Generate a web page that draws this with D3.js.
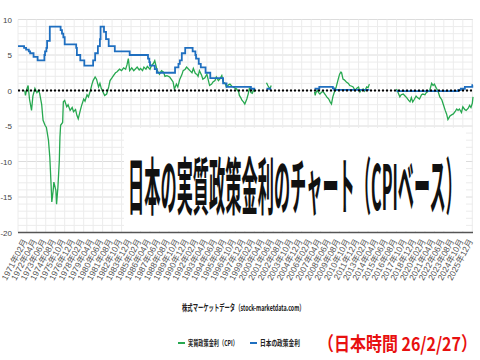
<!DOCTYPE html>
<html>
<head>
<meta charset="utf-8">
<script src="https://cdn.jsdelivr.net/npm/d3@7"></script>
<style>
  body { margin: 0; background: #fff; }
  svg { display: block; font-family: "Liberation Sans", "Noto Sans CJK JP", sans-serif; }
</style>
</head>
<body>
<script>
// y axis ticks
let yTicks = [-20, -15, -10, -5, 0, 5, 10];

// x labels (every 14 months)
let xLabels = ["1971年02月","1972年04月","1973年06月","1974年08月","1975年10月","1976年12月","1978年02月","1979年04月",
  "1980年06月","1981年08月","1982年10月","1983年12月","1985年02月","1986年04月","1987年06月","1988年08月",
  "1989年10月","1990年12月","1992年02月","1993年04月","1994年06月","1995年08月","1996年10月","1997年12月",
  "1999年02月","2000年04月","2001年06月","2002年08月","2003年10月","2004年12月","2006年02月","2007年04月",
  "2008年06月","2009年08月","2010年10月","2011年12月","2013年02月","2014年04月","2015年06月","2016年08月",
  "2017年10月","2018年12月","2020年02月","2021年04月","2022年06月","2023年08月","2024年10月","2025年12月"];

// 日本の政策金利 (change points, null = no data)
let policyRate = [
  ["1970-01",6.25],["1970-10",6.0],["1971-01",5.75],["1971-05",5.5],["1971-07",5.25],["1971-12",4.75],
  ["1972-06",4.25],["1973-04",5.0],["1973-05",5.5],["1973-07",6.0],["1973-08",7.0],["1973-12",9.0],
  ["1975-04",8.5],["1975-06",8.0],["1975-08",7.5],["1975-10",6.5],["1977-03",6.0],["1977-04",5.0],
  ["1977-09",4.25],["1978-03",3.5],["1979-04",4.25],["1979-07",5.25],["1979-11",6.25],["1980-02",7.25],
  ["1980-03",9.0],["1980-08",8.25],["1980-11",7.25],["1981-03",6.25],["1981-12",5.5],["1983-10",5.0],
  ["1986-01",4.5],["1986-03",4.0],["1986-04",3.5],["1986-11",3.0],["1987-02",2.5],["1989-05",3.25],
  ["1989-10",3.75],["1989-12",4.25],["1990-03",5.25],["1990-08",6.0],["1991-07",5.5],["1991-11",5.0],
  ["1991-12",4.5],["1992-04",3.75],["1992-07",3.25],["1993-02",2.5],["1993-09",1.75],["1995-04",1.0],
  ["1995-09",0.5],["1998-09",0.25],["1999-02",0.15],["1999-03",0.15],["1999-04",null],
  ["2000-08",0.25],["2001-03",0.25],["2001-04",null],
  ["2006-07",0.25],["2007-02",0.5],["2008-10",0.3],["2008-12",0.1],["2013-04",0.1],["2013-05",null],
  ["2016-08",-0.1],["2024-03",0.05],["2024-07",0.25],["2025-01",0.5],["2025-12",0.75],["2026-01",0.75]
];

// 実質政策金利（CPI）
let realRate = [
  ["1970-11",0],["1970-12",-0.7],["1971-02",0.2],["1971-04",0.7],["1971-06",-1.2],["1971-09",-2.8],["1971-11",-0.8],
  ["1972-02",0.3],["1972-05",-0.3],["1972-07",0],["1972-09",-0.4],["1972-12",-2.0],["1973-02",-4.2],["1973-05",-4.9],
  ["1973-07",-5.2],["1973-10",-7.0],["1973-12",-9.4],["1974-02",-13.6],["1974-03",-15.7],["1974-05",-14.1],
  ["1974-06",-12.9],["1974-09",-14.1],["1974-10",-16.0],["1974-12",-13.6],["1975-02",-9.9],["1975-03",-6.6],
  ["1975-04",-4.9],["1975-07",-4.5],["1975-08",-1.6],["1975-10",-1.4],["1976-01",-2.3],["1976-03",-2.0],
  ["1976-06",-2.8],["1976-09",-2.4],["1976-11",-3.0],["1977-02",-2.7],["1977-04",-3.5],["1977-06",-4.0],
  ["1977-09",-2.8],["1977-11",-2.1],["1978-02",-1.2],["1978-04",-1.5],["1978-07",-0.6],["1978-09",-0.9],
  ["1978-12",0],["1979-02",0.8],["1979-04",1.4],["1979-07",1.9],["1979-09",1.6],["1979-12",0.5],["1980-02",1.0],
  ["1980-04",0.3],["1980-06",-0.1],["1980-09",-0.7],["1980-12",-0.5],["1981-03",0.5],["1981-05",1.4],
  ["1981-08",1.8],["1981-10",2.1],["1982-01",2.5],["1982-03",2.6],["1982-07",3.0],["1982-10",2.8],["1983-01",3.2],
  ["1983-04",3.0],["1983-06",3.6],["1983-08",4.5],["1983-10",2.8],["1984-01",3.2],["1984-04",2.8],["1984-09",3.3],
  ["1984-12",2.9],["1985-02",3.1],["1985-05",2.8],["1985-07",3.3],["1985-10",3.0],["1985-12",3.4],["1986-04",3.0],
  ["1986-06",3.5],["1986-09",3.8],["1986-11",4.2],["1987-02",3.0],["1987-04",2.6],["1987-06",2.3],["1987-09",2.8],
  ["1987-12",2.6],["1988-02",2.0],["1988-05",2.1],["1988-09",1.9],["1988-12",1.5],["1989-02",1.2],["1989-04",0.2],
  ["1989-07",0.9],["1989-09",0.5],["1989-12",1.6],["1990-03",2.2],["1990-05",2.8],["1990-08",3.0],["1990-10",3.3],
  ["1991-01",3.0],["1991-03",2.8],["1991-06",2.5],["1991-08",3.1],["1991-11",2.4],["1992-01",2.3],["1992-03",2.0],
  ["1992-05",2.8],["1992-08",2.2],["1992-10",1.6],["1993-01",1.8],["1993-04",2.3],["1993-06",1.5],["1993-08",0.7],
  ["1993-11",0.9],["1994-01",1.2],["1994-04",1.4],["1994-06",1.9],["1994-09",1.4],["1994-11",1.6],["1995-02",2.1],
  ["1995-04",1.2],["1995-07",1.0],["1995-09",0.5],["1995-12",0.8],["1996-02",0.9],["1996-05",0.6],["1996-07",0.5],
  ["1996-10",0.3],["1996-12",0.2],["1997-03",-0.2],["1997-04",-0.7],["1997-06",-1.0],["1997-08",-1.4],
  ["1997-10",-1.6],["1997-12",-1.9],["1998-03",-1.2],["1998-05",-0.5],["1998-07",0.4],["1998-09",-0.3],
  ["1998-11",-0.4],["1999-01",0.1],["1999-03",-0.2],["1999-04",null],
  ["2000-08",1.1],["2000-10",0.7],["2001-01",0.2],["2001-03",0.7],["2001-04",null],
  ["2006-07",-0.2],["2006-08",-0.7],["2006-09",-0.3],["2006-11",0],["2007-01",-0.3],["2007-03",-0.5],["2007-06",-0.2],
  ["2007-08",-0.2],["2007-11",-0.6],["2008-01",-0.9],["2008-04",-1.2],["2008-06",-1.6],["2008-08",-1.9],
  ["2008-10",-0.9],["2009-01",0],["2009-03",0.5],["2009-06",1.6],["2009-08",2.3],["2009-10",2.6],["2009-11",2.5],
  ["2010-01",1.6],["2010-03",1.5],["2010-06",1.2],["2010-09",1.0],["2010-11",0.7],["2011-02",0.6],["2011-04",0.5],
  ["2011-07",0],["2011-09",0.3],["2011-12",0.5],["2012-02",-0.2],["2012-04",0.1],["2012-07",0.2],["2012-09",-0.1],
  ["2012-12",0.5],["2013-02",0.4],["2013-04",0.9],["2013-05",null],
  ["2016-08",0.2],["2016-10",-0.2],["2017-01",-0.9],["2017-03",-0.6],["2017-06",-0.5],["2017-09",-0.8],
  ["2017-11",-1.0],["2018-02",-1.4],["2018-04",-1.6],["2018-06",-1.0],["2018-08",-1.6],["2018-10",-1.3],
  ["2019-01",-0.8],["2019-03",-1.0],["2019-06",-1.2],["2019-09",-0.6],["2019-11",-0.5],["2020-02",-0.6],
  ["2020-04",-0.3],["2020-07",-0.1],["2020-09",0],["2020-12",1.0],["2021-02",0.7],["2021-04",0.9],["2021-07",0.3],
  ["2021-09",0],["2021-12",-0.9],["2022-03",-1.3],["2022-05",-1.9],["2022-08",-2.8],["2022-10",-3.3],
  ["2022-12",-4.1],["2023-03",-3.6],["2023-06",-3.4],["2023-08",-3.3],["2023-11",-2.9],["2024-01",-2.6],
  ["2024-03",-2.8],["2024-05",-2.6],["2024-08",-3.1],["2024-10",-2.3],["2025-01",-2.7],["2025-03",-2.8],
  ["2025-06",-2.5],["2025-08",-2.1],["2025-10",-2.4],["2025-12",-1.8],["2026-01",-0.9]
];

let seriesNames = ["実質政策金利（CPI）", "日本の政策金利"];
let seriesColors = ["#27a850", "#1f6fc0"];

let svgWidth = 480, svgHeight = 360;
let plot = { left: 18, right: 473, top: 19.5, bottom: 232.5 };

let parseYM = d3.timeParse("%Y-%m");
let parseLabel = d3.timeParse("%Y年%m月");

let svg = d3.select("body").append("svg")
  .attr("width", svgWidth)
  .attr("height", svgHeight);

let xScale = d3.scaleTime()
  .domain([parseYM("1970-01"), parseYM("2026-01")])
  .range([plot.left, plot.right]);

let yScale = d3.scaleLinear()
  .domain([-20, 10])
  .range([plot.bottom, plot.top]);

// squeeze a text horizontally so it fills the given width
function fitText(g, x, y, width) {
  let t = g.select("text");
  let w = t.node().getComputedTextLength();
  g.attr("transform", "translate(" + x + "," + y + ") scale(" + (width / w) + ",1)");
}

// horizontal grid, one per unit
svg.append("g").selectAll("line")
  .data(d3.range(-19, 11))
  .enter().append("line")
    .attr("x1", plot.left).attr("x2", plot.right)
    .attr("y1", d => yScale(d)).attr("y2", d => yScale(d))
    .attr("stroke", d => d % 5 === 0 ? "#dcdcdc" : "#ececec")
    .attr("stroke-width", 1);

// vertical grid at each label
svg.append("g").selectAll("line")
  .data(xLabels)
  .enter().append("line")
    .attr("x1", d => xScale(parseLabel(d))).attr("x2", d => xScale(parseLabel(d)))
    .attr("y1", plot.top).attr("y2", plot.bottom)
    .attr("stroke", "#ececec");

svg.append("line")
  .attr("x1", plot.left).attr("x2", plot.left)
  .attr("y1", plot.top).attr("y2", plot.bottom)
  .attr("stroke", "#ececec");

// y labels
svg.append("g").selectAll("text")
  .data(yTicks)
  .enter().append("text")
    .attr("x", 12)
    .attr("y", d => yScale(d) + 3)
    .attr("text-anchor", "end")
    .attr("font-size", 8)
    .attr("fill", "#444")
    .text(d => d);

// big title with white box
svg.append("rect")
  .attr("x", 124).attr("y", 128)
  .attr("width", 342).attr("height", 103)
  .attr("fill", "#fff");

let titleG = svg.append("g");
titleG.append("text")
  .attr("x", 0).attr("y", 0)
  .attr("font-family", "'Noto Sans CJK JP'")
  .attr("font-weight", "bold")
  .attr("font-size", 62)
  .attr("fill", "#111")
  .text("日本の実質政策金利のチャート（CPIベース）");
fitText(titleG, 128, 210, 334);

// bottom axis line
svg.append("line")
  .attr("x1", plot.left).attr("x2", plot.right)
  .attr("y1", plot.bottom).attr("y2", plot.bottom)
  .attr("stroke", "#555").attr("stroke-width", 1.5);

// x labels rotated
svg.append("g").selectAll("text")
  .data(xLabels)
  .enter().append("text")
    .attr("transform", d => "translate(" + (xScale(parseLabel(d)) + 1) + "," + 241 + ") rotate(-62)")
    .attr("text-anchor", "end")
    .attr("font-size", 8.5)
    .attr("fill", "#555")
    .text(d => d);

// lines
let policyLine = d3.line()
  .defined(d => d[1] !== null)
  .x(d => xScale(parseYM(d[0])))
  .y(d => yScale(d[1]))
  .curve(d3.curveStepAfter);

let realLine = d3.line()
  .defined(d => d[1] !== null)
  .x(d => xScale(parseYM(d[0])))
  .y(d => yScale(d[1]));

svg.append("path")
  .datum(realRate)
  .attr("d", realLine)
  .attr("fill", "none")
  .attr("stroke", seriesColors[0])
  .attr("stroke-width", 1.3);

svg.append("path")
  .datum(policyRate)
  .attr("d", policyLine)
  .attr("fill", "none")
  .attr("stroke", seriesColors[1])
  .attr("stroke-width", 1.8);

// zero dotted line
svg.append("line")
  .attr("x1", plot.left).attr("x2", plot.right)
  .attr("y1", yScale(0)).attr("y2", yScale(0))
  .attr("stroke", "#000")
  .attr("stroke-width", 2)
  .attr("stroke-dasharray", "2,2");

// source text
let srcG = svg.append("g");
srcG.append("text")
  .attr("font-family", "'Noto Sans CJK JP'")
  .attr("font-weight", "bold")
  .attr("font-size", 9)
  .attr("fill", "#222")
  .text("株式マーケットデータ（stock-marketdata.com）");
fitText(srcG, 182, 311, 123);

// legend
let legendX = [178, 250];
let legendW = [50, 40];
seriesNames.forEach((name, i) => {
  svg.append("line")
    .attr("x1", legendX[i]).attr("x2", legendX[i] + 7)
    .attr("y1", 343).attr("y2", 343)
    .attr("stroke", seriesColors[i]).attr("stroke-width", 2);
  let lg = svg.append("g");
  lg.append("text")
    .attr("font-family", "'Noto Sans CJK JP'")
    .attr("font-weight", "bold")
    .attr("font-size", 8)
    .attr("fill", "#222")
    .text(name);
  fitText(lg, legendX[i] + 10, 346, legendW[i]);
});

// date stamp
let dateG = svg.append("g");
dateG.append("text")
  .attr("font-family", "'Noto Sans CJK JP'")
  .attr("font-weight", "bold")
  .attr("font-size", 19)
  .attr("fill", "#e8100f")
  .text("（日本時間 26/2/27）");
fitText(dateG, 318, 351, 159);
</script>
</body>
</html>
